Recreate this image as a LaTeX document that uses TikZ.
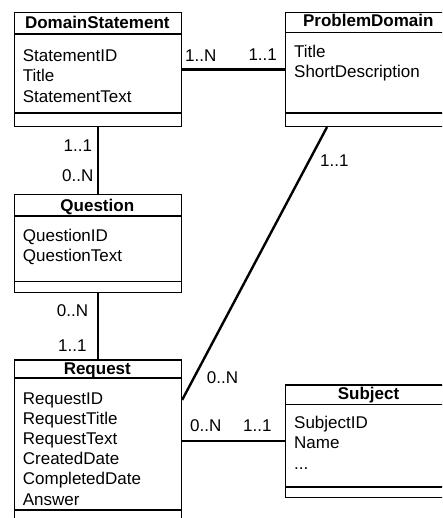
\documentclass[tikz,border=0pt]{standalone}
\usepackage{fontspec}
\setmainfont{Liberation Sans}
\usetikzlibrary{calc}
\begin{document}
\begin{tikzpicture}[x=1pt,y=-1pt,
  cls/.style={draw, line width=1.4pt, inner sep=0pt, anchor=north west, rectangle},
  sepl/.style={line width=1.4pt},
  conn/.style={line width=2.4pt},
  ttl/.style={font=\fontsize{17}{20}\selectfont\bfseries, inner sep=0pt, anchor=base},
  attr/.style={font=\fontsize{17}{20}\selectfont, inner sep=0pt, anchor=base west},
  mult/.style={font=\fontsize{17}{20}\selectfont, inner sep=0pt, anchor=base west}]
\useasboundingbox (0,0) rectangle (442,518);
\clip (0,0) rectangle (442,518);

% class boxes
\node[cls, minimum width=166.7pt, minimum height=114pt] (ds) at (14,11.7) {};
\node[cls, minimum width=166pt, minimum height=114pt] (pd) at (285,11.7) {};
\node[cls, minimum width=166.7pt, minimum height=97.7pt] (q) at (14,194) {};
\node[cls, minimum width=166.7pt, minimum height=170pt] (req) at (14,359.3) {};
\node[cls, minimum width=166pt, minimum height=112.4pt] (sub) at (285,384.3) {};

% compartment lines
\draw[sepl] ([yshift=-22.3pt]ds.north west) -- ([yshift=-22.3pt]ds.north east);
\draw[sepl] ([yshift=14pt]ds.south west) -- ([yshift=14pt]ds.south east);
\draw[sepl] ([yshift=-20.6pt]pd.north west) -- ([yshift=-20.6pt]pd.north east);
\draw[sepl] ([yshift=14pt]pd.south west) -- ([yshift=14pt]pd.south east);
\draw[sepl] ([yshift=-22pt]q.north west) -- ([yshift=-22pt]q.north east);
\draw[sepl] ([yshift=11.7pt]q.south west) -- ([yshift=11.7pt]q.south east);
\draw[sepl] ([yshift=-18.7pt]req.north west) -- ([yshift=-18.7pt]req.north east);
\draw[sepl] ([yshift=-150.7pt]req.north west) -- ([yshift=-150.7pt]req.north east);
\draw[sepl] ([yshift=-20pt]sub.north west) -- ([yshift=-20pt]sub.north east);
\draw[sepl] ([yshift=11pt]sub.south west) -- ([yshift=11pt]sub.south east);

% titles
\node[ttl] (dst) at (97.3,28.6) {DomainStatement};
\node[ttl] (pdt) at (368.3,27) {ProblemDomain};
\node[ttl] (qt) at (97.3,211.5) {Question};
\node[ttl] (reqt) at (97.3,374) {Request};
\node[ttl] (subt) at (368.5,399.5) {Subject};

% attributes
\node[attr] (ds1) at (22.7,61.7) {StatementID};
\node[attr] (ds2) at (22.7,81.9) {Title};
\node[attr] (ds3) at (22.7,102.1) {StatementText};
\node[attr] (pd1) at (294,57.5) {Title};
\node[attr] (pd2) at (294,77.7) {ShortDescription};
\node[attr] (q1) at (22.7,241.7) {QuestionID};
\node[attr] (q2) at (22.7,261.9) {QuestionText};
\node[attr] (r1) at (22.7,404) {RequestID};
\node[attr] (r2) at (22.7,424.2) {RequestTitle};
\node[attr] (r3) at (22.7,444.4) {RequestText};
\node[attr] (r4) at (22.7,464.6) {CreatedDate};
\node[attr] (r5) at (22.7,484.8) {CompletedDate};
\node[attr] (r6) at (22.7,505) {Answer};
\node[attr] (s1) at (294,428) {SubjectID};
\node[attr] (s2) at (294,448.5) {Name};
\node[attr] (s3) at (294,469) {...};

% connectors
\draw[conn] (ds.east) -- (pd.west);
\draw[conn] (ds.south) -- (q.north);
\draw[conn] (q.south) -- (req.north);
\draw[conn] ($(pd.south west)+(42,0)$) -- ($(req.north east)+(0,40.7)$);
\draw[conn] (sub.west -| req.east) -- (sub.west);

% multiplicities
\node[mult] (m1) at (185,61.7) {1..N};
\node[mult] (m2) at (248.3,61) {1..1};
\node[mult] (m3) at (63.5,151.7) {1..1};
\node[mult] (m4) at (62,182) {0..N};
\node[mult] (m5) at (56.7,316.7) {0..N};
\node[mult] (m6) at (58,351) {1..1};
\node[mult] (m7) at (320,166.7) {1..1};
\node[mult] (m8) at (206.7,383.3) {0..N};
\node[mult] (m9) at (190,431) {0..N};
\node[mult] (m10) at (243,431.7) {1..1};
\end{tikzpicture}
\end{document}
